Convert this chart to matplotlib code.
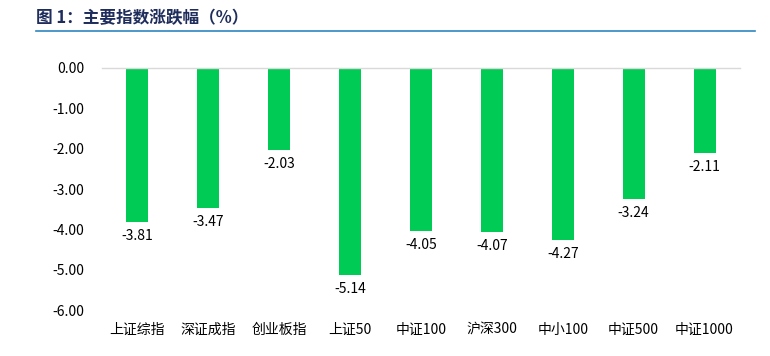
import matplotlib
matplotlib.use("Agg")
import matplotlib.pyplot as plt
from matplotlib.lines import Line2D

plt.rcParams['font.family'] = ['Noto Sans CJK SC', 'DejaVu Sans']

categories = ["上证综指", "深证成指", "创业板指", "上证50", "中证100", "沪深300", "中小100", "中证500", "中证1000"]
values = [-3.81, -3.47, -2.03, -5.14, -4.05, -4.07, -4.27, -3.24, -2.11]
yticks = [0, -1, -2, -3, -4, -5, -6]
title = "图 1：主要指数涨跌幅（%）"

fig = plt.figure(figsize=(7.7, 3.56), dpi=100)
ax = fig.add_axes([0.1325, 0.129, 0.8285, 0.680])
x = list(range(len(categories)))
ax.bar(x, values, width=0.31, color="#00CC55", zorder=2)
for xi, v in zip(x, values):
    ax.annotate(f"{v:.2f}", (xi, v), xytext=(0, -5), textcoords="offset points",
                ha="center", va="top", fontsize=10, color="#000000")
ax.set_xlim(-0.5, len(categories) - 0.5)
ax.set_ylim(-6, 0)
ax.set_yticks(yticks)
ax.set_yticklabels([f"{t:.2f}" for t in yticks], fontsize=10)
ax.set_xticks(x)
ax.set_xticklabels(categories, fontsize=10)
for s in ["left", "right", "bottom"]:
    ax.spines[s].set_visible(False)
ax.spines["top"].set_color("#D9D9D9")
ax.spines["top"].set_linewidth(1.0)
ax.tick_params(axis="both", length=0)
ax.tick_params(axis="y", pad=13)
ax.tick_params(axis="x", pad=9)

fig.text(36 / 770, 1 - 18 / 356, title, fontsize=12, fontweight="bold",
         color="#1F2D5C", ha="left", va="center")
fig.add_artist(Line2D([36 / 770, 755 / 770], [1 - 31 / 356, 1 - 31 / 356],
                      color="#2E86C1", linewidth=1.2, transform=fig.transFigure))

fig.savefig("out.png", dpi=100)
